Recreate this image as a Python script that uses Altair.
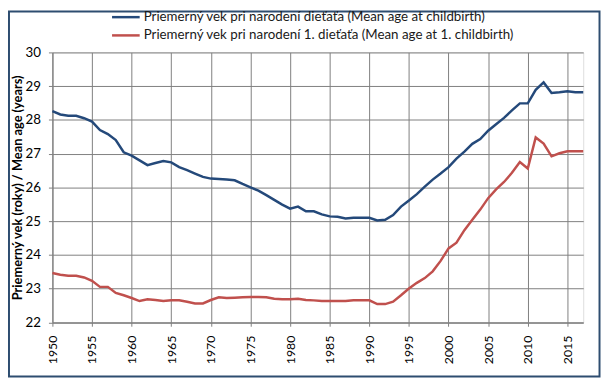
import altair as alt
import pandas as pd

years = list(range(1950, 2018))
mean_age = [28.26, 28.16, 28.12, 28.12, 28.05, 27.95, 27.70, 27.58, 27.40, 27.04,
            26.94, 26.80, 26.66, 26.72, 26.78, 26.74, 26.60, 26.51, 26.41, 26.31,
            26.26, 26.25, 26.23, 26.21, 26.10, 26.00, 25.90, 25.77, 25.63, 25.49,
            25.37, 25.43, 25.29, 25.29, 25.20, 25.14, 25.13, 25.08, 25.10, 25.10,
            25.10, 25.02, 25.04, 25.18, 25.43, 25.61, 25.80, 26.02, 26.23, 26.41,
            26.60, 26.85, 27.06, 27.29, 27.43, 27.68, 27.87, 28.06, 28.28, 28.49,
            28.49, 28.89, 29.11, 28.80, 28.82, 28.85, 28.82, 28.82]
mean_age_first = [23.46, 23.41, 23.38, 23.38, 23.33, 23.23, 23.05, 23.05, 22.87, 22.80,
                  22.72, 22.63, 22.68, 22.66, 22.63, 22.65, 22.65, 22.61, 22.56, 22.56,
                  22.66, 22.74, 22.72, 22.73, 22.74, 22.75, 22.75, 22.74, 22.70, 22.68,
                  22.68, 22.70, 22.66, 22.65, 22.63, 22.63, 22.63, 22.63, 22.65, 22.65,
                  22.65, 22.54, 22.54, 22.61, 22.80, 23.00, 23.17, 23.31, 23.51, 23.82,
                  24.19, 24.36, 24.73, 25.04, 25.34, 25.68, 25.94, 26.16, 26.43, 26.75,
                  26.56, 27.48, 27.30, 26.92, 27.01, 27.07, 27.07, 27.07]
series_names = ["Priemerný vek pri narodení dieťaťa (Mean age at childbirth)",
                "Priemerný vek pri narodení 1. dieťaťa (Mean age at 1. childbirth)"]
series_colors = ["#24497A", "#C0504D"]
x_ticks = list(range(1950, 2016, 5))
y_ticks = list(range(22, 31))

df = pd.concat([
    pd.DataFrame({"year": years, "age": mean_age, "series": series_names[0]}),
    pd.DataFrame({"year": years, "age": mean_age_first, "series": series_names[1]}),
])

W, H = 538, 273.5
FONT = "Lato"
GRID = "#7f7f7f"

lines = alt.Chart(df).mark_line(strokeWidth=2.5, clip=False).encode(
    x=alt.X("year:Q",
            scale=alt.Scale(domain=[1950, 2017], nice=False, zero=False),
            axis=alt.Axis(values=x_ticks, format="d", labelAngle=-90, title=None,
                          tickSize=4, labelPadding=9, labelFontSize=12.5,
                          labelColor="#000000", labelFont=FONT,
                          domainColor=GRID, tickColor=GRID,
                          gridColor=GRID, gridWidth=1, gridOpacity=1)),
    y=alt.Y("age:Q",
            scale=alt.Scale(domain=[22, 30], nice=False, zero=False),
            axis=alt.Axis(values=y_ticks, title="Priemerný vek (roky) / Mean age (years)",
                          tickSize=4, labelPadding=8, labelFontSize=13.5,
                          labelColor="#000000", labelFont=FONT,
                          titleFont=FONT, titleFontSize=13, titleFontWeight="bold",
                          titleColor="#000000", titleAngle=-90, titleX=-35, titleY=H / 2,
                          titleAlign="center", titleBaseline="middle",
                          domainColor=GRID, tickColor=GRID,
                          gridColor=GRID, gridWidth=1, gridOpacity=1)),
    color=alt.Color("series:N",
                    scale=alt.Scale(domain=series_names, range=series_colors),
                    sort=series_names,
                    legend=alt.Legend(title=None, orient="none", legendX=67.7, legendY=-42.5,
                                      symbolType="M-3.5,0H3.5", symbolSize=64,
                                      symbolStrokeWidth=2.5, labelOffset=11.3,
                                      labelFont=FONT, labelFontSize=13.5, labelColor="#1a1a1a",
                                      labelLimit=0, rowPadding=3.5, padding=0)),
)

border = alt.Chart(alt.Data(values=[{"b": 1}])).mark_rect(
    filled=False, stroke="#2E4D70", strokeWidth=2, clip=False
).encode(
    x=alt.value(-44), x2=alt.value(554.5),
    y=alt.value(-41.5), y2=alt.value(328.5),
)

chart = alt.layer(lines, border).properties(
    width=W, height=H,
    autosize=alt.AutoSizeParams(type="none"),
    padding={"left": 45, "top": 42.5, "right": 18, "bottom": 58},
).configure_view(stroke=None).configure(background="#ffffff")

chart.save("out.html", embed_options={"renderer": "svg", "actions": False})
